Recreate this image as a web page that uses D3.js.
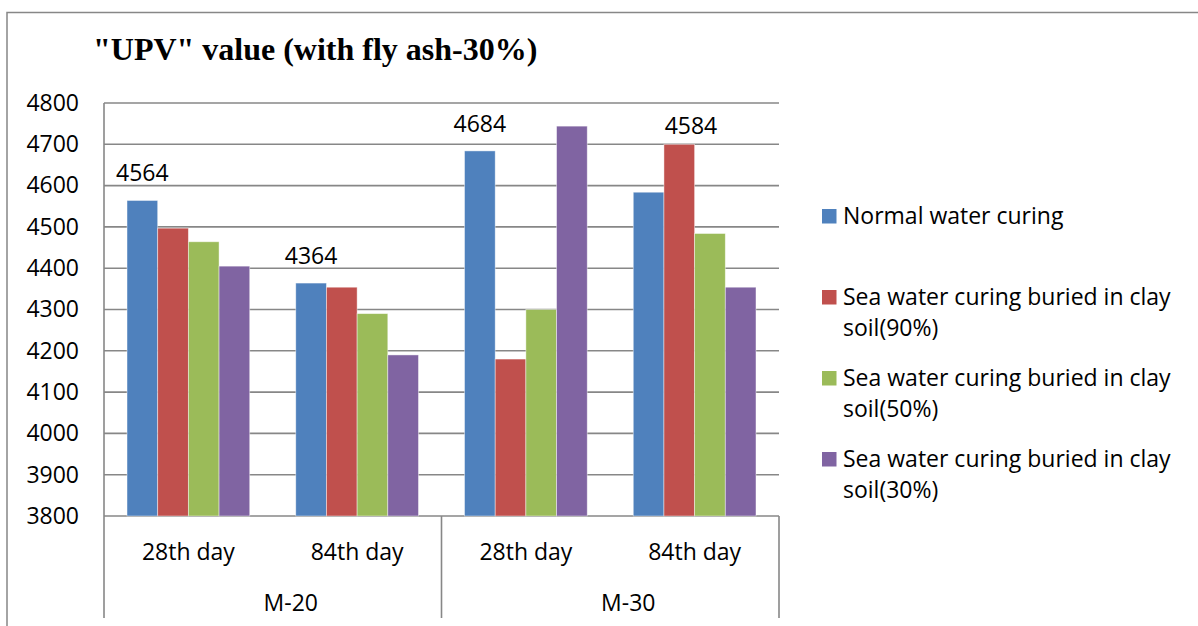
<!DOCTYPE html>
<html>
<head>
<meta charset="utf-8">
<script src="https://cdn.jsdelivr.net/npm/d3@7/dist/d3.min.js"></script>
<style>
  html, body { margin: 0; padding: 0; background: #fff; }
  svg { display: block; }
  text { font-family: "Open Sans", "Noto Sans", sans-serif; fill: #000; }
</style>
</head>
<body>
<svg id="chart" width="1198" height="626"></svg>
<script>
// ---- data ----
const categories = ["28th day", "84th day", "28th day", "84th day"];
const groups = ["M-20", "M-30"];
const seriesNames = [
  "Normal water curing",
  "Sea water curing buried in clay soil(90%)",
  "Sea water curing buried in clay soil(50%)",
  "Sea water curing buried in clay soil(30%)"
];
const normalWater = [4564, 4364, 4684, 4584];
const seaClay90 = [4497, 4354, 4180, 4700];
const seaClay50 = [4464, 4290, 4300, 4484];
const seaClay30 = [4405, 4190, 4744, 4354];
const yTicks = [3800, 3900, 4000, 4100, 4200, 4300, 4400, 4500, 4600, 4700, 4800];
const titleText = "\"UPV\" value (with fly ash-30%)";

const seriesValues = [normalWater, seaClay90, seaClay50, seaClay30];
const colors = ["#4F81BD", "#C0504D", "#9BBB59", "#8064A2"];

// ---- layout ----
const svg = d3.select("#chart");
const plot = { left: 104, right: 779, top: 103, bottom: 516 };
const gridColor = "#878787";

svg.append("rect").attr("width", 1198).attr("height", 626).attr("fill", "#fff");

// outer chart frame (top and left edges)
svg.append("path")
  .attr("d", "M7,626 V12.5 H1198")
  .attr("fill", "none").attr("stroke", gridColor).attr("stroke-width", 1.5);

// title
svg.append("text")
  .attr("x", 93).attr("y", 60)
  .style("font-family", "'Liberation Serif', 'Times New Roman', serif")
  .style("font-weight", "bold")
  .style("font-size", "32px")
  .text(titleText);

const x = d3.scaleBand()
  .domain(d3.range(categories.length))
  .range([plot.left, plot.right])
  .paddingInner(0).paddingOuter(0);

const xs = d3.scaleBand()
  .domain(d3.range(seriesNames.length))
  .range([0, x.bandwidth()])
  .paddingInner(0).paddingOuter(0.75);

const y = d3.scaleLinear()
  .domain([yTicks[0], yTicks[yTicks.length - 1]])
  .range([plot.bottom, plot.top]);

// horizontal gridlines
svg.append("g").selectAll("line")
  .data(yTicks)
  .join("line")
  .attr("x1", plot.left).attr("x2", plot.right)
  .attr("y1", d => y(d)).attr("y2", d => y(d))
  .attr("stroke", gridColor).attr("stroke-width", 1.6);

// y axis labels
const yAxis = d3.axisLeft(y).tickValues(yTicks).tickFormat(d3.format("d"))
  .tickSize(0).tickPadding(0);
const yg = svg.append("g").attr("transform", `translate(79,0)`).call(yAxis);
yg.select(".domain").remove();
yg.selectAll("text")
  .style("font-family", "'Open Sans', sans-serif")
  .style("font-size", "23px")
  .attr("fill", "#000");

// bars
const barGroups = svg.append("g").selectAll("g")
  .data(seriesValues)
  .join("g")
  .attr("fill", (d, i) => colors[i]);

barGroups.each(function (vals, si) {
  d3.select(this).selectAll("rect")
    .data(vals)
    .join("rect")
    .attr("x", (v, ci) => x(ci) + xs(si))
    .attr("width", xs.bandwidth())
    .attr("y", v => y(v))
    .attr("height", v => y(yTicks[0]) - y(v))
    .attr("stroke", "rgba(255,255,255,0.55)")
    .attr("stroke-width", 0.8);
});

// vertical axis line and category dividers
svg.append("line")
  .attr("x1", plot.left).attr("x2", plot.left)
  .attr("y1", plot.top).attr("y2", plot.bottom)
  .attr("stroke", gridColor).attr("stroke-width", 1.6);

const perGroup = categories.length / groups.length;
const dividers = d3.range(groups.length + 1).map(g =>
  g < groups.length ? x(g * perGroup) : plot.right);
svg.append("g").selectAll("line")
  .data(dividers)
  .join("line")
  .attr("x1", d => d).attr("x2", d => d)
  .attr("y1", plot.bottom).attr("y2", 618)
  .attr("stroke", gridColor).attr("stroke-width", 1.6);

// category labels
svg.append("g").selectAll("text")
  .data(categories)
  .join("text")
  .attr("x", (d, i) => x(i) + x.bandwidth() / 2)
  .attr("y", 560)
  .attr("text-anchor", "middle")
  .style("font-size", "23px")
  .text(d => d);

// group labels
svg.append("g").selectAll("text")
  .data(groups)
  .join("text")
  .attr("x", (d, g) => (dividers[g] + dividers[g + 1]) / 2 + 18)
  .attr("y", 611)
  .attr("text-anchor", "middle")
  .style("font-size", "23px")
  .text(d => d);

// value labels for the first series; lifted above a taller neighbour when blocked
svg.append("g").selectAll("text")
  .data(normalWater)
  .join("text")
  .each(function (v, ci) {
    const barX = x(ci) + xs(0) + xs.bandwidth() / 2;
    const neighbour = seaClay90[ci];
    let lx = barX, ly = y(v) - 19;
    if (neighbour > v) {
      const top = d3.max(seriesValues, s => s[ci]);
      lx = barX + xs.bandwidth() * 1.38;
      ly = y(top) - 10;
    }
    d3.select(this).attr("x", lx).attr("y", ly);
  })
  .attr("text-anchor", "middle")
  .style("font-size", "23px")
  .text(d => d);

// legend
const legend = svg.append("g").attr("transform", "translate(822,0)");
const maxLegendWidth = 345;
seriesNames.forEach((name, i) => {
  const base = 223.5 + i * 81;
  legend.append("rect")
    .attr("x", 0).attr("y", base - 14.5)
    .attr("width", 14.5).attr("height", 14.5)
    .attr("fill", colors[i]);
  const t = legend.append("text")
    .attr("x", 21).attr("y", base)
    .style("font-size", "23px");
  // wrap words onto lines within the legend width
  const words = name.split(" ");
  let line = [];
  let tspan = t.append("tspan").attr("x", 21).attr("dy", 0);
  words.forEach(w => {
    line.push(w);
    tspan.text(line.join(" "));
    if (tspan.node().getComputedTextLength() > maxLegendWidth && line.length > 1) {
      line.pop();
      tspan.text(line.join(" "));
      line = [w];
      tspan = t.append("tspan").attr("x", 21).attr("dy", 31.7).text(w);
    }
  });
});
</script>
</body>
</html>
